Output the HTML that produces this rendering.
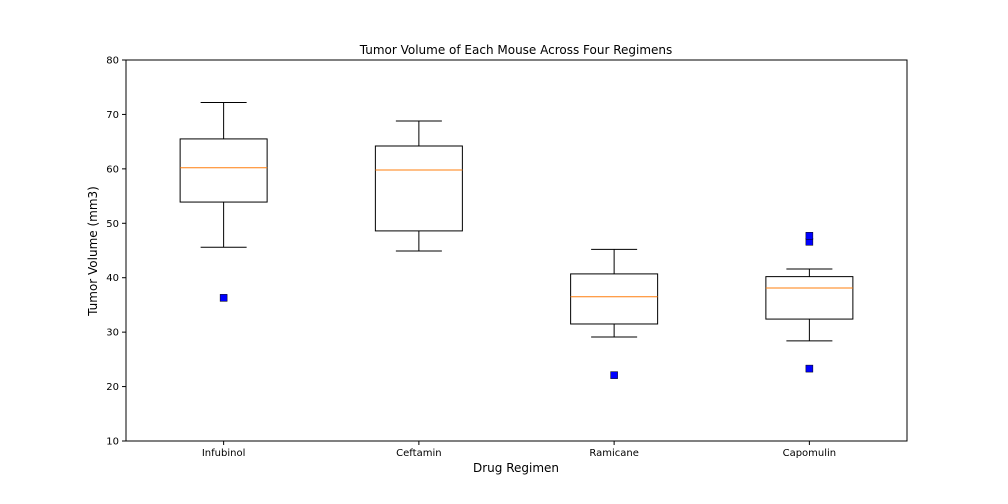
<!DOCTYPE html>
<html><head><meta charset="utf-8">
<style>
body{margin:0;background:#fff;}
svg{display:block;font-family:"DejaVu Sans","Liberation Sans",sans-serif;}
</style></head>
<body>
<svg id="chart" width="1008" height="504">
<rect width="1008" height="504" fill="#fff"/>
<text x="516" y="54" text-anchor="middle" font-size="12">Tumor Volume of Each Mouse Across Four Regimens</text>
<text x="516" y="472" text-anchor="middle" font-size="12">Drug Regimen</text>
<text x="97" y="251" text-anchor="middle" font-size="12" transform="rotate(-90 97 251)">Tumor Volume (mm3)</text>
<g id="plot"></g>
<rect x="126" y="60" width="781" height="381" fill="none" stroke="#000" stroke-width="1"/>
</svg>
<script>
const categories=["Infubinol","Ceftamin","Ramicane","Capomulin"];
const whiskerLow=[45.6,44.9,29.1,28.4];
const q1=[53.9,48.6,31.5,32.4];
const medians=[60.2,59.8,36.5,38.1];
const q3=[65.5,64.2,40.7,40.2];
const whiskerHigh=[72.2,68.8,45.2,41.6];
const outliers=[[36.3],[],[22.1],[23.3,46.6,47.7]];
const yTicks=[10,20,30,40,50,60,70,80];

const L=126,R=907,T=60,B=441,yMin=10,yMax=80;
const xs=i=>L+(i+0.5)*(R-L)/categories.length;
const ys=v=>B-(v-yMin)/(yMax-yMin)*(B-T);
const NS="http://www.w3.org/2000/svg";
const g=document.getElementById('plot');
function mk(tag,attrs,parent){const e=document.createElementNS(NS,tag);for(const k in attrs)e.setAttribute(k,attrs[k]);(parent||g).appendChild(e);return e;}

yTicks.forEach(t=>{
  const y=ys(t);
  const tk=mk('line',{x1:L-4,x2:L,y1:y,y2:y,stroke:'#000'});
  
  
  const lb=mk('text',{x:L-7,y:y+3.5,'text-anchor':'end','font-size':10});
  lb.textContent=t;
  
  
});

const bw=87, cw=46;
categories.forEach((c,i)=>{
  const x=xs(i);
  const grp=mk('g',{});
  
  
  mk('line',{x1:x,x2:x,y1:ys(q3[i]),y2:ys(whiskerHigh[i]),stroke:'#000'},grp);
  mk('line',{x1:x,x2:x,y1:ys(q1[i]),y2:ys(whiskerLow[i]),stroke:'#000'},grp);
  mk('line',{x1:x-cw/2,x2:x+cw/2,y1:ys(whiskerHigh[i]),y2:ys(whiskerHigh[i]),stroke:'#000'},grp);
  mk('line',{x1:x-cw/2,x2:x+cw/2,y1:ys(whiskerLow[i]),y2:ys(whiskerLow[i]),stroke:'#000'},grp);
  mk('rect',{x:x-bw/2,y:ys(q3[i]),width:bw,height:ys(q1[i])-ys(q3[i]),fill:'none',stroke:'#000'},grp);
  const med=mk('line',{x1:x-bw/2,x2:x+bw/2,y1:ys(medians[i]),y2:ys(medians[i]),stroke:'#ff7f0e'},grp);
  
  
  outliers[i].forEach(v=>{
    const o=mk('rect',{x:x-3.5,y:ys(v)-3.5,width:7,height:7,fill:'#0000ff',stroke:'#000','stroke-width':0.5},grp);
    
    
  });
  const tk=mk('line',{x1:x,x2:x,y1:B,y2:B+4,stroke:'#000'});
  
  
  const lb=mk('text',{x:x,y:B+15,'text-anchor':'middle','font-size':10});
  lb.textContent=c;
  
  
});
</script>
</body></html>
